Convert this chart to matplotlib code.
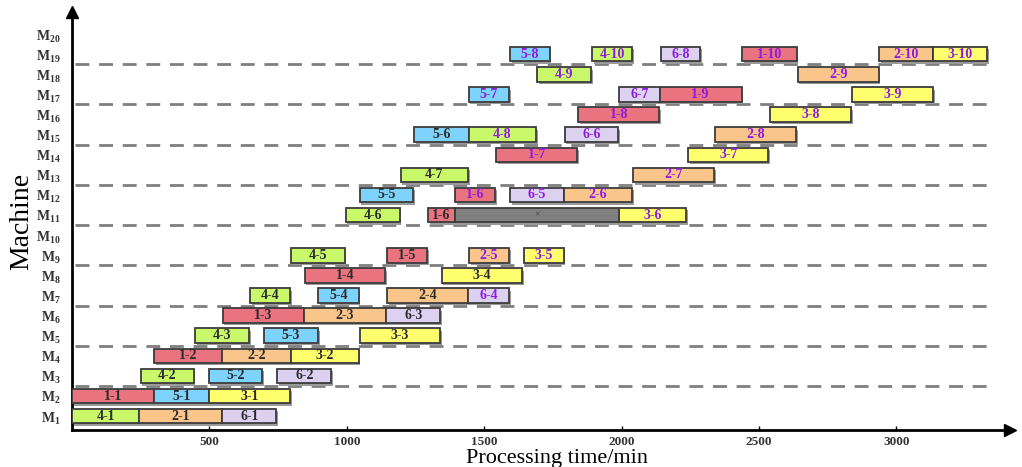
"""Gantt chart of a rescheduled job-shop plan on machines M1-M20."""

import matplotlib.pyplot as plt
from matplotlib.patches import Rectangle

plt.rcParams["font.family"] = ["Liberation Serif", "DejaVu Serif"]
plt.rcParams["mathtext.fontset"] = "custom"
plt.rcParams["mathtext.rm"] = "Liberation Serif"
plt.rcParams["mathtext.bf"] = "Liberation Serif:bold"

# operation "job-op", machine index, start and end time (min), rescheduled flag
ops = [
    "4-1", "2-1", "6-1",
    "1-1", "5-1", "3-1",
    "4-2", "5-2", "6-2",
    "1-2", "2-2", "3-2",
    "4-3", "5-3", "3-3",
    "1-3", "2-3", "6-3",
    "4-4", "5-4", "2-4", "6-4",
    "1-4", "3-4",
    "4-5", "1-5", "2-5", "3-5",
    "4-6", "1-6", "3-6",
    "5-5", "1-6", "6-5", "2-6",
    "4-7", "2-7",
    "1-7", "3-7",
    "5-6", "4-8", "6-6", "2-8",
    "1-8", "3-8",
    "5-7", "6-7", "1-9", "3-9",
    "4-9", "2-9",
    "5-8", "4-10", "6-8", "1-10", "2-10", "3-10",
]
machines = [
    1, 1, 1,
    2, 2, 2,
    3, 3, 3,
    4, 4, 4,
    5, 5, 5,
    6, 6, 6,
    7, 7, 7, 7,
    8, 8,
    9, 9, 9, 9,
    11, 11, 11,
    12, 12, 12, 12,
    13, 13,
    14, 14,
    15, 15, 15, 15,
    16, 16,
    17, 17, 17, 17,
    18, 18,
    19, 19, 19, 19, 19, 19,
]
starts = [
    0, 245, 547,
    0, 298, 498,
    250, 498, 747,
    299, 547, 798,
    449, 698, 1047,
    548, 843, 1144,
    649, 897, 1147, 1443,
    847, 1346,
    798, 1147, 1445, 1644,
    996, 1296, 1990,
    1047, 1395, 1594, 1790,
    1196, 2043,
    1544, 2242,
    1245, 1444, 1793, 2342,
    1843, 2541,
    1444, 1992, 2139, 2839,
    1694, 2641,
    1594, 1893, 2143, 2440, 2938, 3134,
]
ends = [
    245, 547, 743,
    298, 498, 794,
    443, 692, 944,
    547, 798, 1043,
    644, 895, 1341,
    843, 1144, 1341,
    794, 1043, 1443, 1590,
    1141, 1639,
    992, 1292, 1590, 1790,
    1192, 1393, 2236,
    1241, 1541, 1790, 2038,
    1441, 2337,
    1839, 2535,
    1444, 1690, 1989, 2636,
    2138, 2835,
    1590, 2139, 2437, 3134,
    1889, 2936,
    1739, 2038, 2287, 2637, 3134, 3330,
]
rescheduled = [
    0, 0, 0,
    0, 0, 0,
    0, 0, 0,
    0, 0, 0,
    0, 0, 0,
    0, 0, 0,
    0, 0, 0, 1,
    0, 0,
    0, 0, 1, 1,
    0, 0, 1,
    0, 1, 1, 1,
    0, 1,
    1, 1,
    0, 1, 1, 1,
    1, 1,
    1, 1, 1, 1,
    1, 1,
    1, 1, 1, 1, 1, 1,
]

# machine breakdown window
down_machine = 11
down_start = 1393
down_end = 1990

x_ticks = [500, 1000, 1500, 2000, 2500, 3000]
n_machines = 20

job_colors = {
    "1": "#e9737f",
    "2": "#f9c58b",
    "3": "#ffff6e",
    "4": "#c9f86a",
    "5": "#7ed3fc",
    "6": "#dcd1f1",
}

fig = plt.figure(figsize=(10.22, 4.67), dpi=100)
ax = fig.add_axes([72 / 1022, 37 / 467, (1010 - 72) / 1022, (430 - 12) / 467])
ax.set_xlim(0, 3414)
ax.set_ylim(0.31, 21.1)

bar_h = 0.72
shadow_dx, shadow_dy = 6, 0.12

# separators between machine pairs
for y in [2.5, 4.5, 6.5, 8.5, 10.5, 12.5, 14.5, 16.5, 18.5]:
    ax.hlines(y, 10, 3340, colors="#7f7f7f", linestyles=(0, (5, 3.5)), linewidth=2, zorder=1)


def draw_bar(m, t0, t1, face, label=None, tcolor="#2b2b2b"):
    ax.add_patch(Rectangle((t0 + shadow_dx, m - bar_h / 2 - shadow_dy), t1 - t0, bar_h,
                           facecolor="#9a9a9a", edgecolor="none", zorder=2))
    ax.add_patch(Rectangle((t0, m - bar_h / 2), t1 - t0, bar_h,
                           facecolor=face, edgecolor="#3c3c3c", linewidth=1.3, zorder=3))
    if label:
        ax.text((t0 + t1) / 2, m, label, ha="center", va="center", fontsize=10,
                fontweight="bold", color=tcolor, zorder=4)


for op, m, t0, t1, r in zip(ops, machines, starts, ends, rescheduled):
    draw_bar(m, t0, t1, job_colors[op.split("-")[0]], op, "#8e1be0" if r else "#2b2b2b")

draw_bar(down_machine, down_start, down_end, "#808080")
ax.text((down_start + down_end) / 2, down_machine, "×", ha="center", va="center",
        fontsize=7, color="#404040", zorder=4)

ax.spines["top"].set_visible(False)
ax.spines["right"].set_visible(False)
for side in ["left", "bottom"]:
    ax.spines[side].set_linewidth(2)
    ax.spines[side].set_color("black")
ax.plot(1, 0.31, marker=">", color="black", markersize=8, transform=ax.get_yaxis_transform(),
        clip_on=False)
ax.plot(0, 1, marker="^", color="black", markersize=8, transform=ax.transAxes, clip_on=False)

ax.set_xticks(x_ticks)
ax.set_xticklabels([str(v) for v in x_ticks], fontsize=9.5, fontweight="bold", color="#333333")
ax.tick_params(axis="x", direction="in", length=3, width=1, pad=4)
ax.set_yticks(range(1, n_machines + 1))
ax.set_yticklabels([r"$\mathbf{M}_{\mathbf{%d}}$" % m for m in range(1, n_machines + 1)],
                   fontsize=10, color="#333333")
ax.tick_params(axis="y", length=0, pad=8)

ax.set_xlabel("Processing time/min", fontsize=16)
ax.xaxis.set_label_coords((557 - 72) / 938, -0.045, transform=ax.transAxes)
ax.xaxis.label.set_va("top")
ax.set_ylabel("Machine", fontsize=20)
ax.yaxis.set_label_coords(-0.040, 0.5, transform=ax.transAxes)

fig.savefig("out.png", dpi=100)
